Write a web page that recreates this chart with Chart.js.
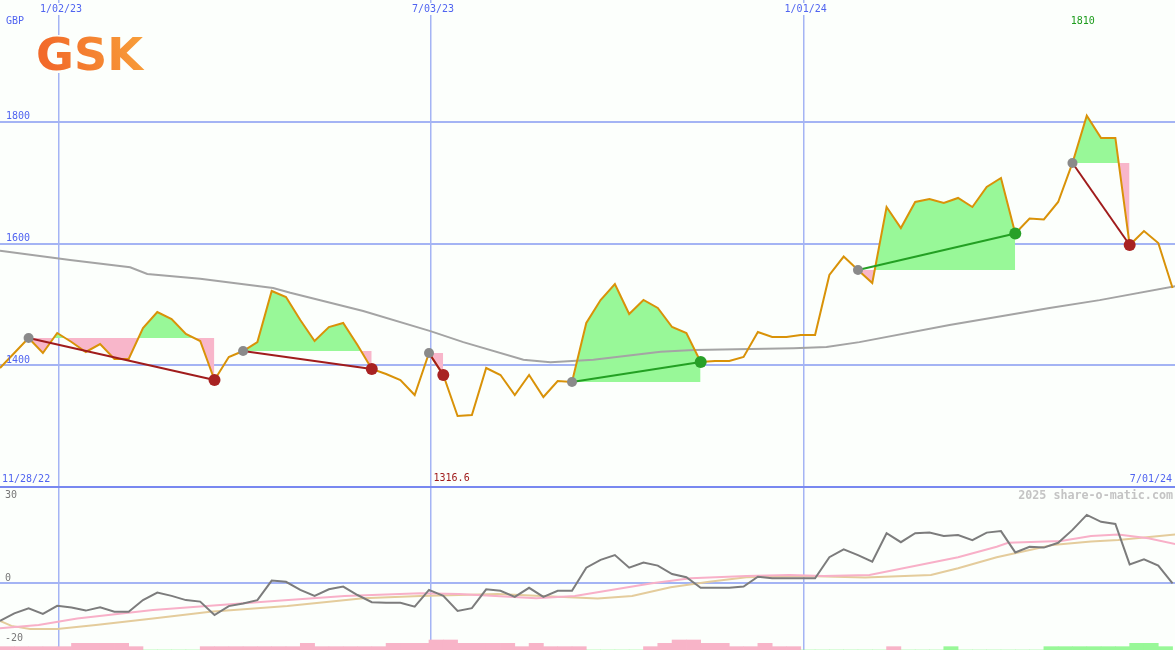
<!DOCTYPE html>
<html>
<head>
<meta charset="utf-8">
<title>GSK</title>
<script src="https://cdn.jsdelivr.net/npm/chart.js@4.4.1/dist/chart.umd.min.js"></script>
<style>
  html, body { margin: 0; padding: 0; background: #fcfffc; }
  #wrap { position: relative; width: 1175px; height: 650px; background: #fcfffc; overflow: hidden; }
  #main { position: absolute; left: 0; top: 0; }
  #osc { position: absolute; left: 0; top: 486px; }
</style>
</head>
<body>
<div id="wrap">
  <canvas id="main" width="1175" height="487"></canvas>
  <canvas id="osc" width="1175" height="164"></canvas>
</div>
<script>
// weekly closes, GBP (week 0 = 11/28/22)
const price = [1395.5, 1420.1, 1444.8, 1420.1, 1453.0, 1438.2, 1421.8, 1434.9, 1410.3, 1410.3,
  1461.2, 1487.5, 1476.0, 1451.3, 1439.8, 1375.8, 1413.6, 1423.4, 1438.2, 1522.0,
  1512.1, 1474.3, 1439.8, 1462.8, 1469.4, 1433.3, 1393.8, 1385.6, 1375.8, 1351.1,
  1420.1, 1384.0, 1316.6, 1318.3, 1395.5, 1384.0, 1351.1, 1384.0, 1347.8, 1374.1,
  1372.4, 1469.4, 1507.2, 1533.5, 1484.2, 1507.2, 1494.1, 1462.8, 1453.0, 1405.3,
  1407.0, 1407.0, 1413.6, 1454.6, 1446.4, 1446.4, 1449.7, 1449.7, 1548.3, 1578.6,
  1556.5, 1535.1, 1660.0, 1625.5, 1668.2, 1673.1, 1666.6, 1674.8, 1660.0, 1692.8,
  1707.6, 1616.5, 1641.1, 1639.5, 1668.2, 1732.3, 1810.0, 1773.4, 1773.4, 1597.5,
  1620.5, 1600.8, 1526.9];

// long moving average (grey), read at a few weeks
const longMaWeek = [0, 4.9, 9.1, 10.3, 14, 19.1, 20.3, 25.4, 30.1, 32.4, 36.6, 38.5, 41.5, 46.2, 48.5, 55.5, 57.8, 60.1, 66.4, 73.4, 76.9, 82.2];
const longMa = [1588, 1573, 1561, 1550, 1542, 1527, 1519, 1489, 1456, 1438, 1409, 1405, 1409, 1422, 1425, 1428, 1430, 1438, 1466, 1494, 1507, 1530];

// trades: entry / exit week
const tradeEntry = [2, 17, 30, 40, 60, 75];
const tradeExit = [15, 26, 31, 49, 71, 79];

// lower panel
const oscillator = [-12.6, -10.1, -8.4, -10.3, -7.6, -8.2, -9.2, -8.1, -9.6, -9.6,
  -5.7, -3.2, -4.3, -5.7, -6.2, -10.7, -7.7, -6.8, -5.7, 0.8,
  0.4, -2.3, -4.3, -2.1, -1.2, -4.0, -6.4, -6.6, -6.6, -7.9,
  -2.3, -4.3, -9.3, -8.4, -2.1, -2.6, -4.6, -1.6, -4.6, -2.6,
  -2.6, 5.1, 7.7, 9.3, 5.1, 6.8, 5.8, 3.0, 1.9, -1.6,
  -1.6, -1.6, -1.2, 2.1, 1.6, 1.6, 1.6, 1.6, 8.6, 11.2,
  9.3, 7.1, 16.6, 13.6, 16.6, 16.8, 15.7, 16.0, 14.3, 16.8,
  17.3, 10.2, 12.1, 11.8, 13.4, 17.7, 22.7, 20.4, 19.7, 6.2,
  7.9, 5.8, -0.1];
const oscFastWeek = [0, 2.7, 5.4, 10.7, 18.7, 24.1, 29.4, 32.1, 37.5, 40.2, 42, 45.6, 48.3, 52.2, 55.2, 57.6, 60.8, 64.3, 67, 69.7, 70.5, 74.2, 76.3, 78.2, 80.3, 82.2];
const oscFast = [-15.1, -14, -11.8, -9, -6.2, -4.3, -3.4, -3.7, -5.1, -4.3, -2.9, -0.1, 1.6, 2.3, 2.7, 2.3, 2.7, 6, 8.6, 12.1, 13.4, 14, 15.7, 16.2, 14.9, 13];
const oscSlowWeek = [0, 0.8, 2.1, 4, 6.7, 10.7, 14.7, 20.1, 25.4, 29.4, 34.8, 40.2, 41.8, 44.2, 46.9, 49.6, 52.2, 56.3, 60.5, 65.1, 67, 69.7, 73.6, 76.3, 78.2, 82.2];
const oscSlow = [-12.6, -14.3, -15.3, -15.3, -14, -11.8, -9.6, -7.7, -5.1, -4.3, -3.7, -4.8, -5.2, -4.3, -1.4, 0.4, 1.9, 2.3, 1.8, 2.7, 4.9, 8.6, 12.7, 13.8, 14.3, 16.2];
// weekly signal bars: negative = sell pressure, positive = buy
const signalBars = [-1, -1, -1, -1, -1, -2, -2, -2, -2, -1,
  0, 0, 0, 0, -1, -1, -1, -1, -1, -1,
  -1, -2, -1, -1, -1, -1, -1, -2, -2, -2,
  -3, -3, -2, -2, -2, -2, -1, -2, -1, -1,
  -1, 0, 0, 0, 0, -1, -2, -3, -3, -2,
  -2, -1, -1, -2, -1, -1, 0, 0, 0, 0,
  0, 0, -1, 0, 0, 0, 1, 0, 0, 0,
  0, 0, 0, 1, 1, 1, 1, 1, 1, 2,
  2, 1];

// axes
const dateTicks = ['1/02/23', '7/03/23', '1/01/24'];
const dateTickWeek = [4.13, 30.14, 56.2];
const firstDate = '11/28/22';
const lastDate = '7/01/24';
const priceTicks = [1400, 1600, 1800];
const oscTicks = [30, 0, -20];

const BG = '#fcfffc';
const GRID = '#a4b4f4';
const BLUE = '#5064f0';
const MONO = '"DejaVu Sans Mono", "Liberation Mono", monospace';

const pts = (xs, ys) => ys.map((v, i) => ({ x: xs[i], y: v }));
const lastWeek = 82.17;

const tradeSets = [];
tradeEntry.forEach((a, t) => {
  const b = tradeExit[t];
  const level = price[a];
  const win = price[b] > level;
  tradeSets.push({
    data: price.slice(a, b + 1).map((v, j) => ({ x: a + j, y: v })),
    borderWidth: 0,
    borderColor: 'rgba(0,0,0,0)',
    pointRadius: 0,
    fill: { target: { value: level }, above: '#98f898', below: '#f8b6ca' },
    order: 10
  });
  tradeSets.push({
    data: [{ x: a, y: level }, { x: b, y: price[b] }],
    borderColor: win ? '#23a023' : '#a01c1c',
    borderWidth: 2,
    pointRadius: [5, 6],
    pointBackgroundColor: ['#8a8a8a', win ? '#27a027' : '#a82222'],
    pointBorderWidth: 0,
    fill: false,
    order: 1
  });
});

function labelBox(ctx, text, x, y, align) {
  const w = ctx.measureText(text).width;
  let left = x;
  if (align === 'center') left = x - w / 2;
  if (align === 'right') left = x - w;
  ctx.fillStyle = BG;
  ctx.fillRect(left - 1, y - 6, w + 2, 12);
}

const mainLabels = {
  id: 'mainLabels',
  afterDraw(chart) {
    const ctx = chart.ctx;
    const xs = chart.scales.x, ys = chart.scales.y;
    ctx.save();
    ctx.font = '10px ' + MONO;
    ctx.textBaseline = 'middle';

    // dates along the top
    ctx.textAlign = 'center';
    dateTicks.forEach((t, i) => {
      const px = xs.getPixelForValue(dateTickWeek[i]) + 2;
      labelBox(ctx, t, px, 9, 'center');
      ctx.fillStyle = BLUE;
      ctx.fillText(t, px, 9);
    });

    ctx.textAlign = 'left';
    ctx.fillStyle = BLUE;
    ctx.fillText('GBP', 6, 21.5);
    priceTicks.forEach(v => {
      ctx.fillText(String(v), 6, ys.getPixelForValue(v) - 5);
    });
    ctx.fillText(firstDate, 2, 479);
    ctx.textAlign = 'right';
    ctx.fillText(lastDate, 1172, 479);

    // low / high of the period
    const lo = Math.min(...price), hi = Math.max(...price);
    ctx.textAlign = 'center';
    ctx.fillStyle = '#a01c1c';
    ctx.fillText(lo.toFixed(1), xs.getPixelForValue(price.indexOf(lo)) - 6, 478.5);
    ctx.fillStyle = '#1c9c1c';
    ctx.fillText(String(Math.round(hi)), xs.getPixelForValue(price.indexOf(hi)) - 4, 21);

    // logo
    ctx.fillStyle = BG;
    ctx.fillRect(33, 35, 114, 38);
    ctx.font = 'bold 45px "DejaVu Sans", sans-serif';
    ctx.textAlign = 'left';
    ctx.textBaseline = 'alphabetic';
    const w = ctx.measureText('GSK').width;
    const g = ctx.createLinearGradient(36, 70, 143, 37);
    g.addColorStop(0, '#f26a2a');
    g.addColorStop(1, '#f9a83c');
    ctx.fillStyle = g;
    ctx.translate(36, 70);
    ctx.scale(107 / w, 1);
    ctx.fillText('GSK', 0, 0);
    ctx.restore();
  }
};

function weekAxis() {
  return {
    type: 'linear', min: 0, max: lastWeek,
    offset: false,
    ticks: { display: false },
    grid: { color: GRID, lineWidth: 1.5, drawTicks: false, offset: false },
    border: { display: false },
    afterBuildTicks: s => { s.ticks = dateTickWeek.map(v => ({ value: v })); }
  };
}

new Chart(document.getElementById('main'), {
  type: 'line',
  data: {
    datasets: [
      ...tradeSets,
      {
        data: pts(longMaWeek, longMa),
        borderColor: '#a4a4a4', borderWidth: 2, pointRadius: 0, fill: false, order: 4
      },
      {
        data: pts(price.map((_, i) => i), price),
        borderColor: '#d99208', borderWidth: 2, pointRadius: 0, fill: false, order: 3
      }
    ]
  },
  options: {
    responsive: false,
    animation: false,
    events: [],
    devicePixelRatio: 1,
    layout: { padding: 0, autoPadding: false },
    plugins: { legend: { display: false }, tooltip: { enabled: false } },
    elements: { line: { tension: 0 } },
    scales: {
      x: weekAxis(),
      y: {
        min: 1200, max: 2000,
        ticks: { display: false },
        grid: { color: GRID, lineWidth: 2, drawTicks: false },
        border: { display: false },
        afterBuildTicks: s => { s.ticks = priceTicks.map(v => ({ value: v })); }
      }
    }
  },
  plugins: [mainLabels]
});

const oscLabels = {
  id: 'oscLabels',
  afterDraw(chart) {
    const ctx = chart.ctx;
    const ys = chart.scales.y;
    ctx.save();
    ctx.fillStyle = '#7888f0';
    ctx.fillRect(0, 0, chart.width, 2);

    ctx.font = 'bold 11.7px ' + MONO;
    ctx.textBaseline = 'middle';
    ctx.textAlign = 'right';
    ctx.fillStyle = '#c4c4c4';
    ctx.fillText('2025 share-o-matic.com', 1173, 10);

    ctx.font = '10px ' + MONO;
    ctx.textAlign = 'left';
    ctx.fillStyle = '#777777';
    oscTicks.forEach(v => {
      const y = Math.min(Math.max(ys.getPixelForValue(v) - 5, 9), chart.height - 10);
      ctx.fillText(String(v), 5, y);
    });
    ctx.restore();
  }
};

new Chart(document.getElementById('osc'), {
  type: 'line',
  data: {
    datasets: [
      {
        data: pts(oscillator.map((_, i) => i), oscillator),
        borderColor: '#7c7c7c', borderWidth: 2, pointRadius: 0, fill: false, order: 1
      },
      {
        data: pts(oscFastWeek, oscFast),
        borderColor: '#f8b0c8', borderWidth: 2, pointRadius: 0, fill: false, order: 2
      },
      {
        data: pts(oscSlowWeek, oscSlow),
        borderColor: '#e4cc9c', borderWidth: 2, pointRadius: 0, fill: false, order: 3
      },
      {
        type: 'bar',
        yAxisID: 'yb',
        data: signalBars.map((v, k) => ({ x: k + 0.5, y: Math.abs(v) })),
        backgroundColor: signalBars.map(v => v < 0 ? '#f8b4c8' : '#98f898'),
        borderWidth: 0,
        barPercentage: 1,
        categoryPercentage: 1,
        order: 5
      }
    ]
  },
  options: {
    responsive: false,
    animation: false,
    events: [],
    devicePixelRatio: 1,
    layout: { padding: 0, autoPadding: false },
    plugins: { legend: { display: false }, tooltip: { enabled: false } },
    elements: { line: { tension: 0 } },
    scales: {
      x: weekAxis(),
      y: {
        min: -22.333, max: 32.333,
        ticks: { display: false },
        grid: { color: GRID, lineWidth: 2, drawTicks: false },
        border: { display: false },
        afterBuildTicks: s => { s.ticks = [{ value: 0 }]; }
      },
      yb: { display: false, min: 0, max: 49.2 }
    }
  },
  plugins: [oscLabels]
});
</script>
</body>
</html>
